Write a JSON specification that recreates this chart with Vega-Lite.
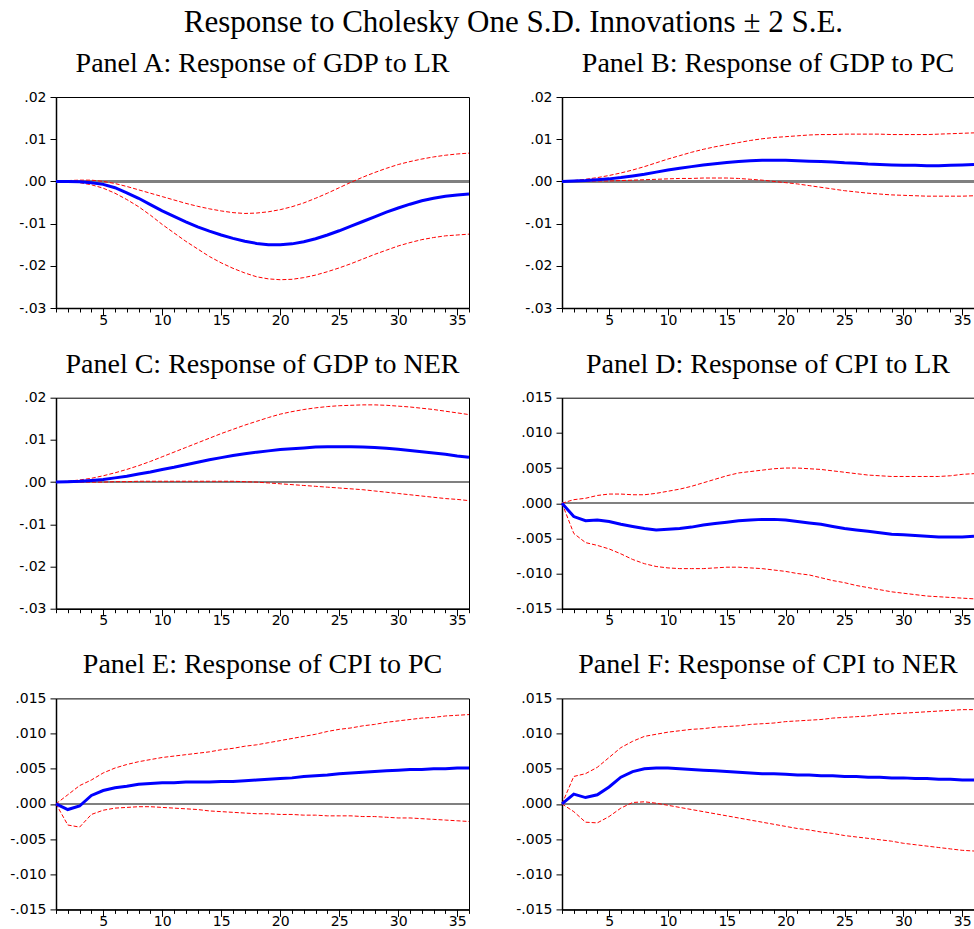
{
"$schema": "https://vega.github.io/schema/vega-lite/v6.json",
"background": "white",
"padding": {"left": 9, "top": 6, "right": 0, "bottom": 0},
"title": {"text": "Response to Cholesky One S.D. Innovations ± 2 S.E.", "fontSize": 31, "anchor": "middle", "frame": "bounds", "dx": 18.5, "offset": 11, "font": "Liberation Serif", "fontWeight": "normal", "color": "black"},
"config": {
  "view": {"stroke": "black", "strokeWidth": 1},
  "title": {"font": "Liberation Serif", "fontSize": 28, "fontWeight": "normal", "color": "black", "frame": "group", "anchor": "middle", "offset": 12},
  "axis": {"labelFont": "DejaVu Sans", "labelFontSize": 14, "labelColor": "black", "tickColor": "black", "domainColor": "black", "grid": false, "title": null}
},
"datasets": {
"A": [{"t":1,"m":0,"hi":0,"lo":0},{"t":2,"m":0,"hi":0.0002,"lo":-0.0001},{"t":3,"m":-0.0001,"hi":0.0003,"lo":-0.0003},{"t":4,"m":-0.0003,"hi":0.0003,"lo":-0.0008},{"t":5,"m":-0.0007,"hi":0,"lo":-0.0016},{"t":6,"m":-0.0015,"hi":-0.0005,"lo":-0.0028},{"t":7,"m":-0.0027,"hi":-0.0012,"lo":-0.0043},{"t":8,"m":-0.004,"hi":-0.002,"lo":-0.006},{"t":9,"m":-0.0055,"hi":-0.0028,"lo":-0.008},{"t":10,"m":-0.007,"hi":-0.0036,"lo":-0.0102},{"t":11,"m":-0.0083,"hi":-0.0044,"lo":-0.0122},{"t":12,"m":-0.0096,"hi":-0.0052,"lo":-0.0142},{"t":13,"m":-0.0108,"hi":-0.0059,"lo":-0.016},{"t":14,"m":-0.0118,"hi":-0.0065,"lo":-0.0178},{"t":15,"m":-0.0127,"hi":-0.007,"lo":-0.0193},{"t":16,"m":-0.0135,"hi":-0.0074,"lo":-0.0206},{"t":17,"m":-0.0142,"hi":-0.0076,"lo":-0.0217},{"t":18,"m":-0.0147,"hi":-0.0075,"lo":-0.0226},{"t":19,"m":-0.015,"hi":-0.0072,"lo":-0.0231},{"t":20,"m":-0.015,"hi":-0.0067,"lo":-0.0233},{"t":21,"m":-0.0148,"hi":-0.006,"lo":-0.0232},{"t":22,"m":-0.0143,"hi":-0.0051,"lo":-0.0228},{"t":23,"m":-0.0136,"hi":-0.004,"lo":-0.0222},{"t":24,"m":-0.0127,"hi":-0.0028,"lo":-0.0214},{"t":25,"m":-0.0117,"hi":-0.0015,"lo":-0.0205},{"t":26,"m":-0.0106,"hi":-0.0002,"lo":-0.0195},{"t":27,"m":-0.0095,"hi":0.001,"lo":-0.0184},{"t":28,"m":-0.0084,"hi":0.0021,"lo":-0.0173},{"t":29,"m":-0.0073,"hi":0.0031,"lo":-0.0163},{"t":30,"m":-0.0063,"hi":0.004,"lo":-0.0153},{"t":31,"m":-0.0054,"hi":0.0047,"lo":-0.0145},{"t":32,"m":-0.0046,"hi":0.0053,"lo":-0.0138},{"t":33,"m":-0.004,"hi":0.0058,"lo":-0.0133},{"t":34,"m":-0.0035,"hi":0.0062,"lo":-0.0129},{"t":35,"m":-0.0032,"hi":0.0065,"lo":-0.0127},{"t":36,"m":-0.003,"hi":0.0067,"lo":-0.0125}],
"B": [{"t":1,"m":0,"hi":0,"lo":0},{"t":2,"m":0.0001,"hi":0.0002,"lo":0},{"t":3,"m":0.0002,"hi":0.0005,"lo":0},{"t":4,"m":0.0004,"hi":0.0009,"lo":0.0001},{"t":5,"m":0.0006,"hi":0.0014,"lo":0.0001},{"t":6,"m":0.0009,"hi":0.002,"lo":0.0002},{"t":7,"m":0.0013,"hi":0.0027,"lo":0.0003},{"t":8,"m":0.0017,"hi":0.0035,"lo":0.0004},{"t":9,"m":0.0022,"hi":0.0044,"lo":0.0005},{"t":10,"m":0.0027,"hi":0.0053,"lo":0.0006},{"t":11,"m":0.0031,"hi":0.0061,"lo":0.0007},{"t":12,"m":0.0035,"hi":0.0069,"lo":0.0007},{"t":13,"m":0.0039,"hi":0.0076,"lo":0.0008},{"t":14,"m":0.0042,"hi":0.0082,"lo":0.0008},{"t":15,"m":0.0045,"hi":0.0087,"lo":0.0008},{"t":16,"m":0.0047,"hi":0.0092,"lo":0.0007},{"t":17,"m":0.0049,"hi":0.0097,"lo":0.0005},{"t":18,"m":0.005,"hi":0.0101,"lo":0.0003},{"t":19,"m":0.005,"hi":0.0104,"lo":0},{"t":20,"m":0.005,"hi":0.0106,"lo":-0.0003},{"t":21,"m":0.0049,"hi":0.0108,"lo":-0.0006},{"t":22,"m":0.0048,"hi":0.011,"lo":-0.001},{"t":23,"m":0.0047,"hi":0.0111,"lo":-0.0014},{"t":24,"m":0.0046,"hi":0.0111,"lo":-0.0018},{"t":25,"m":0.0044,"hi":0.0112,"lo":-0.0022},{"t":26,"m":0.0043,"hi":0.0112,"lo":-0.0025},{"t":27,"m":0.0041,"hi":0.0112,"lo":-0.0028},{"t":28,"m":0.004,"hi":0.0112,"lo":-0.003},{"t":29,"m":0.0039,"hi":0.0111,"lo":-0.0032},{"t":30,"m":0.0038,"hi":0.0111,"lo":-0.0033},{"t":31,"m":0.0038,"hi":0.0111,"lo":-0.0034},{"t":32,"m":0.0037,"hi":0.0111,"lo":-0.0035},{"t":33,"m":0.0037,"hi":0.0112,"lo":-0.0035},{"t":34,"m":0.0038,"hi":0.0113,"lo":-0.0035},{"t":35,"m":0.0039,"hi":0.0114,"lo":-0.0035},{"t":36,"m":0.004,"hi":0.0115,"lo":-0.0034}],
"C": [{"t":1,"m":0,"hi":0,"lo":0},{"t":2,"m":0.0001,"hi":0.0002,"lo":0},{"t":3,"m":0.0002,"hi":0.0005,"lo":0},{"t":4,"m":0.0004,"hi":0.0009,"lo":0},{"t":5,"m":0.0006,"hi":0.0015,"lo":0},{"t":6,"m":0.001,"hi":0.0022,"lo":0.0001},{"t":7,"m":0.0014,"hi":0.003,"lo":0.0001},{"t":8,"m":0.0019,"hi":0.0039,"lo":0.0002},{"t":9,"m":0.0024,"hi":0.0049,"lo":0.0002},{"t":10,"m":0.003,"hi":0.006,"lo":0.0002},{"t":11,"m":0.0035,"hi":0.0071,"lo":0.0002},{"t":12,"m":0.0041,"hi":0.0082,"lo":0.0002},{"t":13,"m":0.0047,"hi":0.0093,"lo":0.0002},{"t":14,"m":0.0053,"hi":0.0104,"lo":0.0002},{"t":15,"m":0.0058,"hi":0.0115,"lo":0.0002},{"t":16,"m":0.0063,"hi":0.0125,"lo":0.0002},{"t":17,"m":0.0067,"hi":0.0135,"lo":0.0001},{"t":18,"m":0.0071,"hi":0.0144,"lo":0},{"t":19,"m":0.0074,"hi":0.0153,"lo":-0.0002},{"t":20,"m":0.0077,"hi":0.0161,"lo":-0.0004},{"t":21,"m":0.0079,"hi":0.0167,"lo":-0.0006},{"t":22,"m":0.0081,"hi":0.0172,"lo":-0.0008},{"t":23,"m":0.0083,"hi":0.0176,"lo":-0.001},{"t":24,"m":0.0084,"hi":0.0179,"lo":-0.0012},{"t":25,"m":0.0084,"hi":0.0181,"lo":-0.0014},{"t":26,"m":0.0084,"hi":0.0182,"lo":-0.0016},{"t":27,"m":0.0083,"hi":0.0183,"lo":-0.0018},{"t":28,"m":0.0082,"hi":0.0183,"lo":-0.0021},{"t":29,"m":0.008,"hi":0.0182,"lo":-0.0024},{"t":30,"m":0.0078,"hi":0.018,"lo":-0.0027},{"t":31,"m":0.0075,"hi":0.0178,"lo":-0.003},{"t":32,"m":0.0072,"hi":0.0175,"lo":-0.0033},{"t":33,"m":0.0069,"hi":0.0172,"lo":-0.0036},{"t":34,"m":0.0066,"hi":0.0168,"lo":-0.0039},{"t":35,"m":0.0062,"hi":0.0164,"lo":-0.0041},{"t":36,"m":0.0059,"hi":0.016,"lo":-0.0044}],
"D": [{"t":1,"m":0,"hi":0,"lo":0},{"t":2,"m":-0.0019,"hi":0.0005,"lo":-0.0043},{"t":3,"m":-0.0025,"hi":0.0007,"lo":-0.0056},{"t":4,"m":-0.0024,"hi":0.0011,"lo":-0.006},{"t":5,"m":-0.0026,"hi":0.0013,"lo":-0.0065},{"t":6,"m":-0.003,"hi":0.0013,"lo":-0.0072},{"t":7,"m":-0.0033,"hi":0.0012,"lo":-0.008},{"t":8,"m":-0.0036,"hi":0.0012,"lo":-0.0086},{"t":9,"m":-0.0038,"hi":0.0014,"lo":-0.009},{"t":10,"m":-0.0037,"hi":0.0017,"lo":-0.0092},{"t":11,"m":-0.0036,"hi":0.002,"lo":-0.0093},{"t":12,"m":-0.0034,"hi":0.0024,"lo":-0.0093},{"t":13,"m":-0.0031,"hi":0.0029,"lo":-0.0093},{"t":14,"m":-0.0029,"hi":0.0034,"lo":-0.0092},{"t":15,"m":-0.0027,"hi":0.0039,"lo":-0.0091},{"t":16,"m":-0.0025,"hi":0.0043,"lo":-0.0091},{"t":17,"m":-0.0024,"hi":0.0045,"lo":-0.0092},{"t":18,"m":-0.0023,"hi":0.0047,"lo":-0.0093},{"t":19,"m":-0.0023,"hi":0.0049,"lo":-0.0095},{"t":20,"m":-0.0024,"hi":0.005,"lo":-0.0097},{"t":21,"m":-0.0026,"hi":0.005,"lo":-0.01},{"t":22,"m":-0.0028,"hi":0.0049,"lo":-0.0102},{"t":23,"m":-0.003,"hi":0.0048,"lo":-0.0106},{"t":24,"m":-0.0033,"hi":0.0046,"lo":-0.011},{"t":25,"m":-0.0036,"hi":0.0044,"lo":-0.0113},{"t":26,"m":-0.0038,"hi":0.0042,"lo":-0.0117},{"t":27,"m":-0.004,"hi":0.004,"lo":-0.012},{"t":28,"m":-0.0042,"hi":0.0039,"lo":-0.0123},{"t":29,"m":-0.0044,"hi":0.0038,"lo":-0.0126},{"t":30,"m":-0.0045,"hi":0.0038,"lo":-0.0128},{"t":31,"m":-0.0046,"hi":0.0038,"lo":-0.013},{"t":32,"m":-0.0047,"hi":0.0038,"lo":-0.0132},{"t":33,"m":-0.0048,"hi":0.0038,"lo":-0.0133},{"t":34,"m":-0.0048,"hi":0.0039,"lo":-0.0134},{"t":35,"m":-0.0048,"hi":0.0041,"lo":-0.0135},{"t":36,"m":-0.0047,"hi":0.0042,"lo":-0.0136}],
"E": [{"t":1,"m":0,"hi":0,"lo":0},{"t":2,"m":-0.0008,"hi":0.0013,"lo":-0.003},{"t":3,"m":-0.0003,"hi":0.0026,"lo":-0.0033},{"t":4,"m":0.0012,"hi":0.0034,"lo":-0.0015},{"t":5,"m":0.0019,"hi":0.0044,"lo":-0.0009},{"t":6,"m":0.0023,"hi":0.0051,"lo":-0.0006},{"t":7,"m":0.0025,"hi":0.0056,"lo":-0.0005},{"t":8,"m":0.0028,"hi":0.006,"lo":-0.0004},{"t":9,"m":0.0029,"hi":0.0063,"lo":-0.0004},{"t":10,"m":0.003,"hi":0.0066,"lo":-0.0005},{"t":11,"m":0.003,"hi":0.0068,"lo":-0.0006},{"t":12,"m":0.0031,"hi":0.007,"lo":-0.0007},{"t":13,"m":0.0031,"hi":0.0072,"lo":-0.0008},{"t":14,"m":0.0031,"hi":0.0074,"lo":-0.001},{"t":15,"m":0.0032,"hi":0.0077,"lo":-0.0011},{"t":16,"m":0.0032,"hi":0.0079,"lo":-0.0012},{"t":17,"m":0.0033,"hi":0.0082,"lo":-0.0013},{"t":18,"m":0.0034,"hi":0.0084,"lo":-0.0014},{"t":19,"m":0.0035,"hi":0.0087,"lo":-0.0014},{"t":20,"m":0.0036,"hi":0.009,"lo":-0.0015},{"t":21,"m":0.0037,"hi":0.0093,"lo":-0.0015},{"t":22,"m":0.0039,"hi":0.0096,"lo":-0.0016},{"t":23,"m":0.004,"hi":0.0099,"lo":-0.0016},{"t":24,"m":0.0041,"hi":0.0103,"lo":-0.0017},{"t":25,"m":0.0043,"hi":0.0106,"lo":-0.0017},{"t":26,"m":0.0044,"hi":0.0108,"lo":-0.0017},{"t":27,"m":0.0045,"hi":0.0111,"lo":-0.0018},{"t":28,"m":0.0046,"hi":0.0113,"lo":-0.0018},{"t":29,"m":0.0047,"hi":0.0116,"lo":-0.0019},{"t":30,"m":0.0048,"hi":0.0118,"lo":-0.002},{"t":31,"m":0.0049,"hi":0.012,"lo":-0.002},{"t":32,"m":0.0049,"hi":0.0122,"lo":-0.0021},{"t":33,"m":0.005,"hi":0.0123,"lo":-0.0022},{"t":34,"m":0.005,"hi":0.0125,"lo":-0.0023},{"t":35,"m":0.0051,"hi":0.0126,"lo":-0.0024},{"t":36,"m":0.0051,"hi":0.0127,"lo":-0.0025}],
"F": [{"t":1,"m":0,"hi":0,"lo":0},{"t":2,"m":0.0014,"hi":0.0039,"lo":-0.0011},{"t":3,"m":0.0009,"hi":0.0043,"lo":-0.0026},{"t":4,"m":0.0013,"hi":0.0052,"lo":-0.0027},{"t":5,"m":0.0024,"hi":0.0066,"lo":-0.0018},{"t":6,"m":0.0038,"hi":0.008,"lo":-0.0006},{"t":7,"m":0.0046,"hi":0.0089,"lo":0.0002},{"t":8,"m":0.005,"hi":0.0096,"lo":0.0003},{"t":9,"m":0.0051,"hi":0.0099,"lo":0.0001},{"t":10,"m":0.0051,"hi":0.0102,"lo":-0.0002},{"t":11,"m":0.005,"hi":0.0104,"lo":-0.0005},{"t":12,"m":0.0049,"hi":0.0106,"lo":-0.0008},{"t":13,"m":0.0048,"hi":0.0107,"lo":-0.0011},{"t":14,"m":0.0047,"hi":0.0109,"lo":-0.0014},{"t":15,"m":0.0046,"hi":0.011,"lo":-0.0017},{"t":16,"m":0.0045,"hi":0.0111,"lo":-0.002},{"t":17,"m":0.0044,"hi":0.0113,"lo":-0.0023},{"t":18,"m":0.0043,"hi":0.0114,"lo":-0.0026},{"t":19,"m":0.0043,"hi":0.0115,"lo":-0.0029},{"t":20,"m":0.0042,"hi":0.0117,"lo":-0.0032},{"t":21,"m":0.0041,"hi":0.0118,"lo":-0.0035},{"t":22,"m":0.0041,"hi":0.0119,"lo":-0.0037},{"t":23,"m":0.004,"hi":0.012,"lo":-0.004},{"t":24,"m":0.004,"hi":0.0122,"lo":-0.0042},{"t":25,"m":0.0039,"hi":0.0123,"lo":-0.0045},{"t":26,"m":0.0039,"hi":0.0124,"lo":-0.0047},{"t":27,"m":0.0038,"hi":0.0125,"lo":-0.0049},{"t":28,"m":0.0038,"hi":0.0127,"lo":-0.0051},{"t":29,"m":0.0037,"hi":0.0128,"lo":-0.0053},{"t":30,"m":0.0037,"hi":0.0129,"lo":-0.0056},{"t":31,"m":0.0036,"hi":0.013,"lo":-0.0058},{"t":32,"m":0.0036,"hi":0.0131,"lo":-0.006},{"t":33,"m":0.0035,"hi":0.0132,"lo":-0.0062},{"t":34,"m":0.0035,"hi":0.0133,"lo":-0.0064},{"t":35,"m":0.0034,"hi":0.0134,"lo":-0.0066},{"t":36,"m":0.0034,"hi":0.0134,"lo":-0.0067}]
},
"columns": 2,
"bounds": "flush",
"spacing": {"column": 93, "row": 89.7},
"concat": [
{"title": {"text": "Panel A: Response of GDP to LR"}, "width": 413, "height": 211, "data": {"name": "A"},
 "layer": [
  {"mark": {"type": "rule", "color": "#808080", "strokeWidth": 1.5}, "encoding": {"y": {"datum": 0, "type": "quantitative", "scale": {"domain": [-0.03, 0.02], "nice": false, "zero": false}, "axis": {"values": [-0.03, -0.02, -0.01, 0, 0.01, 0.02], "tickCount": 20, "labelExpr": "replace(replace(format(datum.value, '.2f'), '0.', '.'), '−', '-')", "tickSize": 6, "labelPadding": 4, "labelOverlap": false, "domainWidth": 1.5}}}},
  {"mark": {"type": "line", "color": "#FF0000", "strokeWidth": 1, "strokeDash": [4, 2]}, "encoding": {"x": {"field": "t", "type": "quantitative", "scale": {"domain": [1, 36], "nice": false, "zero": false}, "axis": {"orient": "bottom", "values": [5, 10, 15, 20, 25, 30, 35], "tickCount": 20, "tickSize": 7, "labelPadding": -2, "labelFlush": false, "labelOverlap": false, "domainWidth": 1.5}}, "y": {"field": "hi", "type": "quantitative"}}},
  {"mark": {"type": "line", "color": "#FF0000", "strokeWidth": 1, "strokeDash": [4, 2]}, "encoding": {"x": {"field": "t", "type": "quantitative", "axis": {"orient": "bottom", "values": [1,2,3,4,6,7,8,9,11,12,13,14,16,17,18,19,21,22,23,24,26,27,28,29,31,32,33,34,36], "tickCount": 50, "tickSize": 4, "labels": false, "domain": false}}, "y": {"field": "lo", "type": "quantitative"}}},
  {"mark": {"type": "line", "color": "#0000FF", "strokeWidth": 3}, "encoding": {"x": {"field": "t", "type": "quantitative", "axis": null}, "y": {"field": "m", "type": "quantitative"}}}
 ],
 "resolve": {"axis": {"x": "independent"}}},
{"title": {"text": "Panel B: Response of GDP to PC"}, "width": 412, "height": 211, "data": {"name": "B"},
 "layer": [
  {"mark": {"type": "rule", "color": "#808080", "strokeWidth": 1.5}, "encoding": {"y": {"datum": 0, "type": "quantitative", "scale": {"domain": [-0.03, 0.02], "nice": false, "zero": false}, "axis": {"values": [-0.03, -0.02, -0.01, 0, 0.01, 0.02], "tickCount": 20, "labelExpr": "replace(replace(format(datum.value, '.2f'), '0.', '.'), '−', '-')", "tickSize": 6, "labelPadding": 4, "labelOverlap": false, "domainWidth": 1.5}}}},
  {"mark": {"type": "line", "color": "#FF0000", "strokeWidth": 1, "strokeDash": [4, 2]}, "encoding": {"x": {"field": "t", "type": "quantitative", "scale": {"domain": [1, 36], "nice": false, "zero": false}, "axis": {"orient": "bottom", "values": [5, 10, 15, 20, 25, 30, 35], "tickCount": 20, "tickSize": 7, "labelPadding": -2, "labelFlush": false, "labelOverlap": false, "domainWidth": 1.5}}, "y": {"field": "hi", "type": "quantitative"}}},
  {"mark": {"type": "line", "color": "#FF0000", "strokeWidth": 1, "strokeDash": [4, 2]}, "encoding": {"x": {"field": "t", "type": "quantitative", "axis": {"orient": "bottom", "values": [1,2,3,4,6,7,8,9,11,12,13,14,16,17,18,19,21,22,23,24,26,27,28,29,31,32,33,34,36], "tickCount": 50, "tickSize": 4, "labels": false, "domain": false}}, "y": {"field": "lo", "type": "quantitative"}}},
  {"mark": {"type": "line", "color": "#0000FF", "strokeWidth": 3}, "encoding": {"x": {"field": "t", "type": "quantitative", "axis": null}, "y": {"field": "m", "type": "quantitative"}}}
 ],
 "resolve": {"axis": {"x": "independent"}}},
{"title": {"text": "Panel C: Response of GDP to NER"}, "width": 413, "height": 211, "data": {"name": "C"},
 "layer": [
  {"mark": {"type": "rule", "color": "#808080", "strokeWidth": 1.5}, "encoding": {"y": {"datum": 0, "type": "quantitative", "scale": {"domain": [-0.03, 0.02], "nice": false, "zero": false}, "axis": {"values": [-0.03, -0.02, -0.01, 0, 0.01, 0.02], "tickCount": 20, "labelExpr": "replace(replace(format(datum.value, '.2f'), '0.', '.'), '−', '-')", "tickSize": 6, "labelPadding": 4, "labelOverlap": false, "domainWidth": 1.5}}}},
  {"mark": {"type": "line", "color": "#FF0000", "strokeWidth": 1, "strokeDash": [4, 2]}, "encoding": {"x": {"field": "t", "type": "quantitative", "scale": {"domain": [1, 36], "nice": false, "zero": false}, "axis": {"orient": "bottom", "values": [5, 10, 15, 20, 25, 30, 35], "tickCount": 20, "tickSize": 7, "labelPadding": -2, "labelFlush": false, "labelOverlap": false, "domainWidth": 1.5}}, "y": {"field": "hi", "type": "quantitative"}}},
  {"mark": {"type": "line", "color": "#FF0000", "strokeWidth": 1, "strokeDash": [4, 2]}, "encoding": {"x": {"field": "t", "type": "quantitative", "axis": {"orient": "bottom", "values": [1,2,3,4,6,7,8,9,11,12,13,14,16,17,18,19,21,22,23,24,26,27,28,29,31,32,33,34,36], "tickCount": 50, "tickSize": 4, "labels": false, "domain": false}}, "y": {"field": "lo", "type": "quantitative"}}},
  {"mark": {"type": "line", "color": "#0000FF", "strokeWidth": 3}, "encoding": {"x": {"field": "t", "type": "quantitative", "axis": null}, "y": {"field": "m", "type": "quantitative"}}}
 ],
 "resolve": {"axis": {"x": "independent"}}},
{"title": {"text": "Panel D: Response of CPI to LR"}, "width": 412, "height": 211, "data": {"name": "D"},
 "layer": [
  {"mark": {"type": "rule", "color": "#808080", "strokeWidth": 1.5}, "encoding": {"y": {"datum": 0, "type": "quantitative", "scale": {"domain": [-0.015, 0.015], "nice": false, "zero": false}, "axis": {"values": [-0.015, -0.01, -0.005, 0, 0.005, 0.01, 0.015], "tickCount": 20, "labelExpr": "replace(replace(format(datum.value, '.3f'), '0.', '.'), '−', '-')", "tickSize": 6, "labelPadding": 4, "labelOverlap": false, "domainWidth": 1.5}}}},
  {"mark": {"type": "line", "color": "#FF0000", "strokeWidth": 1, "strokeDash": [4, 2]}, "encoding": {"x": {"field": "t", "type": "quantitative", "scale": {"domain": [1, 36], "nice": false, "zero": false}, "axis": {"orient": "bottom", "values": [5, 10, 15, 20, 25, 30, 35], "tickCount": 20, "tickSize": 7, "labelPadding": -2, "labelFlush": false, "labelOverlap": false, "domainWidth": 1.5}}, "y": {"field": "hi", "type": "quantitative"}}},
  {"mark": {"type": "line", "color": "#FF0000", "strokeWidth": 1, "strokeDash": [4, 2]}, "encoding": {"x": {"field": "t", "type": "quantitative", "axis": {"orient": "bottom", "values": [1,2,3,4,6,7,8,9,11,12,13,14,16,17,18,19,21,22,23,24,26,27,28,29,31,32,33,34,36], "tickCount": 50, "tickSize": 4, "labels": false, "domain": false}}, "y": {"field": "lo", "type": "quantitative"}}},
  {"mark": {"type": "line", "color": "#0000FF", "strokeWidth": 3}, "encoding": {"x": {"field": "t", "type": "quantitative", "axis": null}, "y": {"field": "m", "type": "quantitative"}}}
 ],
 "resolve": {"axis": {"x": "independent"}}},
{"title": {"text": "Panel E: Response of CPI to PC"}, "width": 413, "height": 211, "data": {"name": "E"},
 "layer": [
  {"mark": {"type": "rule", "color": "#808080", "strokeWidth": 1.5}, "encoding": {"y": {"datum": 0, "type": "quantitative", "scale": {"domain": [-0.015, 0.015], "nice": false, "zero": false}, "axis": {"values": [-0.015, -0.01, -0.005, 0, 0.005, 0.01, 0.015], "tickCount": 20, "labelExpr": "replace(replace(format(datum.value, '.3f'), '0.', '.'), '−', '-')", "tickSize": 6, "labelPadding": 4, "labelOverlap": false, "domainWidth": 1.5}}}},
  {"mark": {"type": "line", "color": "#FF0000", "strokeWidth": 1, "strokeDash": [4, 2]}, "encoding": {"x": {"field": "t", "type": "quantitative", "scale": {"domain": [1, 36], "nice": false, "zero": false}, "axis": {"orient": "bottom", "values": [5, 10, 15, 20, 25, 30, 35], "tickCount": 20, "tickSize": 7, "labelPadding": -2, "labelFlush": false, "labelOverlap": false, "domainWidth": 1.5}}, "y": {"field": "hi", "type": "quantitative"}}},
  {"mark": {"type": "line", "color": "#FF0000", "strokeWidth": 1, "strokeDash": [4, 2]}, "encoding": {"x": {"field": "t", "type": "quantitative", "axis": {"orient": "bottom", "values": [1,2,3,4,6,7,8,9,11,12,13,14,16,17,18,19,21,22,23,24,26,27,28,29,31,32,33,34,36], "tickCount": 50, "tickSize": 4, "labels": false, "domain": false}}, "y": {"field": "lo", "type": "quantitative"}}},
  {"mark": {"type": "line", "color": "#0000FF", "strokeWidth": 3}, "encoding": {"x": {"field": "t", "type": "quantitative", "axis": null}, "y": {"field": "m", "type": "quantitative"}}}
 ],
 "resolve": {"axis": {"x": "independent"}}},
{"title": {"text": "Panel F: Response of CPI to NER"}, "width": 412, "height": 211, "data": {"name": "F"},
 "layer": [
  {"mark": {"type": "rule", "color": "#808080", "strokeWidth": 1.5}, "encoding": {"y": {"datum": 0, "type": "quantitative", "scale": {"domain": [-0.015, 0.015], "nice": false, "zero": false}, "axis": {"values": [-0.015, -0.01, -0.005, 0, 0.005, 0.01, 0.015], "tickCount": 20, "labelExpr": "replace(replace(format(datum.value, '.3f'), '0.', '.'), '−', '-')", "tickSize": 6, "labelPadding": 4, "labelOverlap": false, "domainWidth": 1.5}}}},
  {"mark": {"type": "line", "color": "#FF0000", "strokeWidth": 1, "strokeDash": [4, 2]}, "encoding": {"x": {"field": "t", "type": "quantitative", "scale": {"domain": [1, 36], "nice": false, "zero": false}, "axis": {"orient": "bottom", "values": [5, 10, 15, 20, 25, 30, 35], "tickCount": 20, "tickSize": 7, "labelPadding": -2, "labelFlush": false, "labelOverlap": false, "domainWidth": 1.5}}, "y": {"field": "hi", "type": "quantitative"}}},
  {"mark": {"type": "line", "color": "#FF0000", "strokeWidth": 1, "strokeDash": [4, 2]}, "encoding": {"x": {"field": "t", "type": "quantitative", "axis": {"orient": "bottom", "values": [1,2,3,4,6,7,8,9,11,12,13,14,16,17,18,19,21,22,23,24,26,27,28,29,31,32,33,34,36], "tickCount": 50, "tickSize": 4, "labels": false, "domain": false}}, "y": {"field": "lo", "type": "quantitative"}}},
  {"mark": {"type": "line", "color": "#0000FF", "strokeWidth": 3}, "encoding": {"x": {"field": "t", "type": "quantitative", "axis": null}, "y": {"field": "m", "type": "quantitative"}}}
 ],
 "resolve": {"axis": {"x": "independent"}}}
]
}
